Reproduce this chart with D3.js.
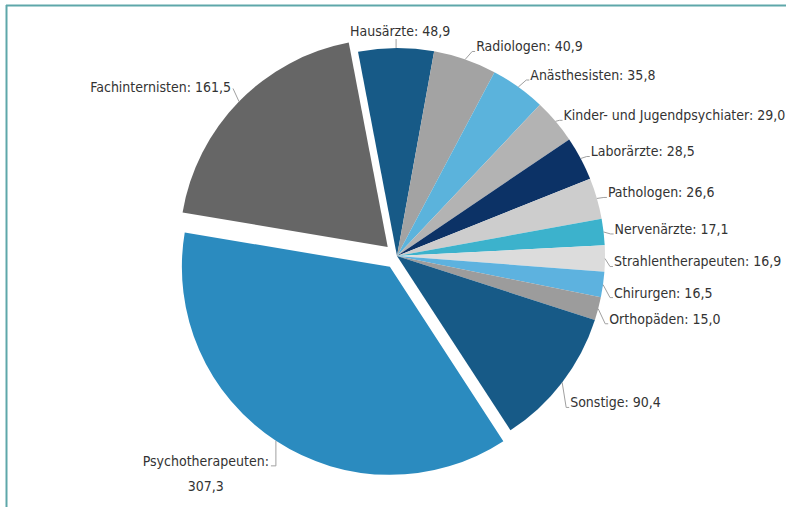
<!DOCTYPE html>
<html>
<head>
<meta charset="utf-8">
<script src="https://cdn.jsdelivr.net/npm/d3@7"></script>
<style>
  html, body { margin: 0; padding: 0; background: #ffffff; }
  svg { display: block; }
  .lbl { font-family: "DejaVu Sans", sans-serif; font-stretch: condensed; font-size: 14px; fill: #333333; }
</style>
</head>
<body>
<svg id="chart" width="786" height="507"></svg>
<script>
// Fachgruppen, clockwise from 12 o'clock
const categories = [
  "Hausärzte", "Radiologen", "Anästhesisten", "Kinder- und Jugendpsychiater",
  "Laborärzte", "Pathologen", "Nervenärzte", "Strahlentherapeuten",
  "Chirurgen", "Orthopäden", "Sonstige", "Psychotherapeuten", "Fachinternisten"
];
const values = [48.9, 40.9, 35.8, 29.0, 28.5, 26.6, 17.1, 16.9, 16.5, 15.0, 90.4, 307.3, 161.5];
const valueLabels = ["48,9", "40,9", "35,8", "29,0", "28,5", "26,6", "17,1", "16,9", "16,5", "15,0", "90,4", "307,3", "161,5"];

// slice styling
const colors = [
  "#175a87", "#a3a3a3", "#5bb3dc", "#b3b3b3",
  "#0c3266", "#cdcdcd", "#3cb2cc", "#dcdcdc",
  "#5db2df", "#9c9c9c", "#175a87", "#2b8bbf", "#666666"
];
const exploded = new Set(["Psychotherapeuten", "Fachinternisten"]);

// label placement relative to each slice's outer mid point
const labelLayout = [
  { dx: 4,  dy: -17, anchor: "middle" },
  { dx: 11, dy: -13, anchor: "start" },
  { dx: 12, dy: -12, anchor: "start" },
  { dx: 8,  dy: -6,  anchor: "start" },
  { dx: 10, dy: -7,  anchor: "start" },
  { dx: 11, dy: -6,  anchor: "start" },
  { dx: 11, dy: -3,  anchor: "start" },
  { dx: 9,  dy: 3,   anchor: "start" },
  { dx: 11, dy: 8,   anchor: "start" },
  { dx: 11, dy: 10,  anchor: "start" },
  { dx: 8,  dy: 20,  anchor: "start" },
  { dx: -7, dy: 20,  anchor: "end", wrap: true },
  { dx: -8, dy: -14, anchor: "end" }
];

const W = 786, H = 507;
const cx = 397, cy = 256, R = 208, explode = 13;
const startDeg = -10.8;

const svg = d3.select("#chart");

// frame lines (top and left)
svg.append("line").attr("x1", 6).attr("x2", W).attr("y1", 5.5).attr("y2", 5.5)
  .attr("stroke", "#5ea7aa").attr("stroke-width", 2);
svg.append("line").attr("x1", 6.5).attr("x2", 6.5).attr("y1", 5).attr("y2", H)
  .attr("stroke", "#5ea7aa").attr("stroke-width", 2);

const data = categories.map((c, i) => ({ name: c, value: values[i], label: valueLabels[i], color: colors[i], layout: labelLayout[i] }));

const start = startDeg * Math.PI / 180;
const pie = d3.pie().sort(null).value(d => d.value)
  .startAngle(start).endAngle(start + 2 * Math.PI);
const arcs = pie(data);

const arc = d3.arc().innerRadius(0).outerRadius(R);

const g = svg.append("g").attr("transform", `translate(${cx},${cy})`);

function offsetOf(a) {
  if (!exploded.has(a.data.name)) return [0, 0];
  const m = (a.startAngle + a.endAngle) / 2;
  return [Math.sin(m) * explode, -Math.cos(m) * explode];
}

g.selectAll("path.slice")
  .data(arcs)
  .join("path")
  .attr("class", "slice")
  .attr("d", arc)
  .attr("fill", d => d.data.color)
  .attr("transform", d => { const o = offsetOf(d); return `translate(${o[0]},${o[1]})`; });

// labels with leader lines
arcs.forEach(a => {
  const m = (a.startAngle + a.endAngle) / 2;
  const o = offsetOf(a);
  const px = cx + o[0] + Math.sin(m) * R;
  const py = cy + o[1] - Math.cos(m) * R;
  const L = a.data.layout;
  const lx = px + L.dx, ly = py + L.dy;

  let pts;
  if (L.anchor === "middle") {
    pts = [[px, py], [px, ly + 8]];
  } else if (L.anchor === "start") {
    pts = [[px, py], [lx - 4, ly + 5], [lx - 1, ly + 5]];
  } else if (L.wrap) {
    pts = [[px, py], [px, ly + 5], [lx + 2, ly + 5]];
  } else {
    pts = [[px, py], [lx + 2, ly + 1]];
  }
  svg.append("path")
    .attr("d", d3.line()(pts))
    .attr("fill", "none")
    .attr("stroke", "#a0a0a0")
    .attr("stroke-width", 1);

  if (L.wrap) {
    const t = svg.append("text").attr("class", "lbl")
      .attr("x", lx).attr("y", ly).attr("dy", "0.35em")
      .attr("text-anchor", "end")
      .text(a.data.name + ":");
    const w = t.node().getComputedTextLength();
    svg.append("text").attr("class", "lbl")
      .attr("x", lx - w / 2).attr("y", ly + 25).attr("dy", "0.35em")
      .attr("text-anchor", "middle")
      .text(a.data.label);
  } else {
    svg.append("text").attr("class", "lbl")
      .attr("x", lx).attr("y", ly).attr("dy", "0.35em")
      .attr("text-anchor", L.anchor)
      .text(a.data.name + ": " + a.data.label);
  }
});
</script>
</body>
</html>
